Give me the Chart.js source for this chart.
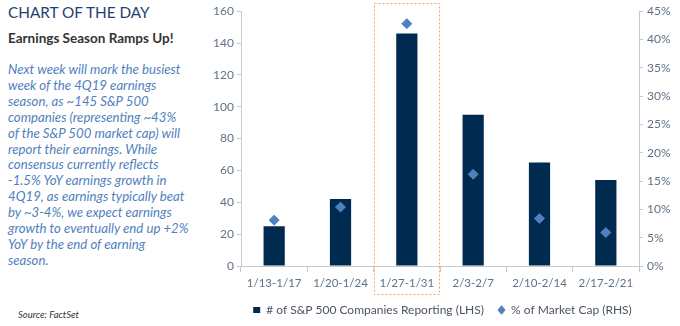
<!DOCTYPE html>
<html lang="en">
  <head>
    <meta charset="UTF-8" />
    <title>Earnings Season Ramps Up</title>
    <script src="https://cdn.jsdelivr.net/npm/chart.js@4"></script>
    <style>
      body { margin: 0; width: 680px; height: 326px; background: #fff; position: relative; overflow: hidden; font-family: Lato, "Open Sans", sans-serif; }
      #title { position: absolute; left: 8px; top: 3px; font-size: 15.3px; color: #1f3f6e; }
      #sub { position: absolute; left: 8px; top: 30px; font-size: 13.5px; font-weight: bold; color: #333; }
      #note { position: absolute; left: 8px; top: 62px; width: 210px; font-size: 13.2px; line-height: 15.9px; font-style: italic; color: #4f81bd; white-space: nowrap; }
      #src { position: absolute; left: 18px; top: 309px; font-size: 9.5px; font-style: italic; color: #333; }
      #wrap { position: absolute; left: 205px; top: 0; width: 475px; height: 326px; }
    </style>
  </head>
  <body>
    <div id="title">CHART OF THE DAY</div>
    <div id="sub">Earnings Season Ramps Up!</div>
    <div id="note">Next week will mark the busiest<br>week of the 4Q19 earnings<br>season, as ~145 S&amp;P 500<br>companies (representing ~43%<br>of the S&amp;P 500 market cap) will<br>report their earnings. While<br>consensus currently reflects<br>-1.5% YoY earnings growth in<br>4Q19, as earnings typically beat<br>by ~3-4%, we expect earnings<br>growth to eventually end up +2%<br>YoY by the end of earning<br>season.</div>
    <div id="src">Source: FactSet</div>
    <div id="wrap"><canvas id="Graph" width="475" height="326"></canvas></div>

    <script>
      const weeks = ['1/13-1/17', '1/20-1/24', '1/27-1/31', '2/3-2/7', '2/10-2/14', '2/17-2/21'];
      const companies = [25, 42, 146, 95, 65, 54];
      const marketCap = [8.1, 10.4, 42.8, 16.2, 8.4, 5.9];
      const highlightWeek = 2;

      const tickColor = '#5f7286';
      const axisColor = '#c8c8c8';

      const boxPlugin = {
        id: 'highlightBox',
        afterDraw(chart) {
          const ctx = chart.ctx;
          const x = chart.scales.x;
          const step = (x.right - x.left) / weeks.length;
          const cx = x.getPixelForValue(highlightWeek);
          ctx.save();
          ctx.strokeStyle = '#f4a46a';
          ctx.lineWidth = 1;
          ctx.setLineDash([2, 2]);
          ctx.strokeRect(Math.round(cx - step / 2) + 0.5, 3.5, Math.round(step - 1), chart.chartArea.bottom + 28 - 3);
          ctx.restore();
        }
      };

      new Chart(document.getElementById('Graph'), {
        data: {
          labels: weeks,
          datasets: [
            {
              type: 'scatter',
              label: '% of Market Cap (RHS)',
              data: marketCap,
              yAxisID: 'y2',
              backgroundColor: '#4f81bd',
              borderColor: '#4f81bd',
              pointStyle: 'rectRot',
              pointRadius: 5,
              showLine: false,
              order: 0
            },
            {
              type: 'bar',
              label: '# of S&P 500 Companies Reporting (LHS)  ',
              data: companies,
              yAxisID: 'y',
              backgroundColor: '#002a4f',
              barPercentage: 0.32,
              categoryPercentage: 1,
              order: 1
            }
          ]
        },
        options: {
          responsive: false,
          animation: false,
          layout: { padding: { top: 11, bottom: 0, left: 0, right: 0 } },
          plugins: {
            tooltip: { enabled: false },
            legend: {
              position: 'bottom',
              reverse: true,
              labels: {
                usePointStyle: true,
                pointStyleWidth: 7,
                boxHeight: 6,
                color: '#4a5563',
                font: { family: 'Lato', size: 12 },
                padding: 8,
                generateLabels(chart) {
                  const items = Chart.defaults.plugins.legend.labels.generateLabels(chart);
                  items.forEach(it => {
                    it.pointStyle = it.datasetIndex === 1 ? 'rect' : 'rectRot';
                  });
                  return items;
                }
              }
            }
          },
          scales: {
            x: {
              type: 'category',
              offset: true,
              grid: { display: true, drawOnChartArea: false, offset: true, color: axisColor, tickLength: 6 },
              border: { color: axisColor },
              ticks: { color: tickColor, font: { family: 'Lato', size: 11.5 }, padding: 4 },
              afterFit(s) { s.height = 30; }
            },
            y: {
              position: 'left',
              min: 0,
              max: 160,
              ticks: { stepSize: 20, color: tickColor, font: { family: 'Lato', size: 12 }, padding: 3 },
              grid: { drawOnChartArea: false, color: axisColor, tickLength: 4 },
              border: { color: axisColor },
              afterFit(s) { s.width = 36; }
            },
            y2: {
              position: 'right',
              min: 0,
              max: 45,
              ticks: { stepSize: 5, color: tickColor, font: { family: 'Lato', size: 12 }, padding: 4, callback: v => v + '%' },
              grid: { drawOnChartArea: false, color: axisColor, tickLength: 4 },
              border: { color: axisColor },
              afterFit(s) { s.width = 41; }
            }
          }
        },
        plugins: [boxPlugin]
      });
    </script>
  </body>
</html>
